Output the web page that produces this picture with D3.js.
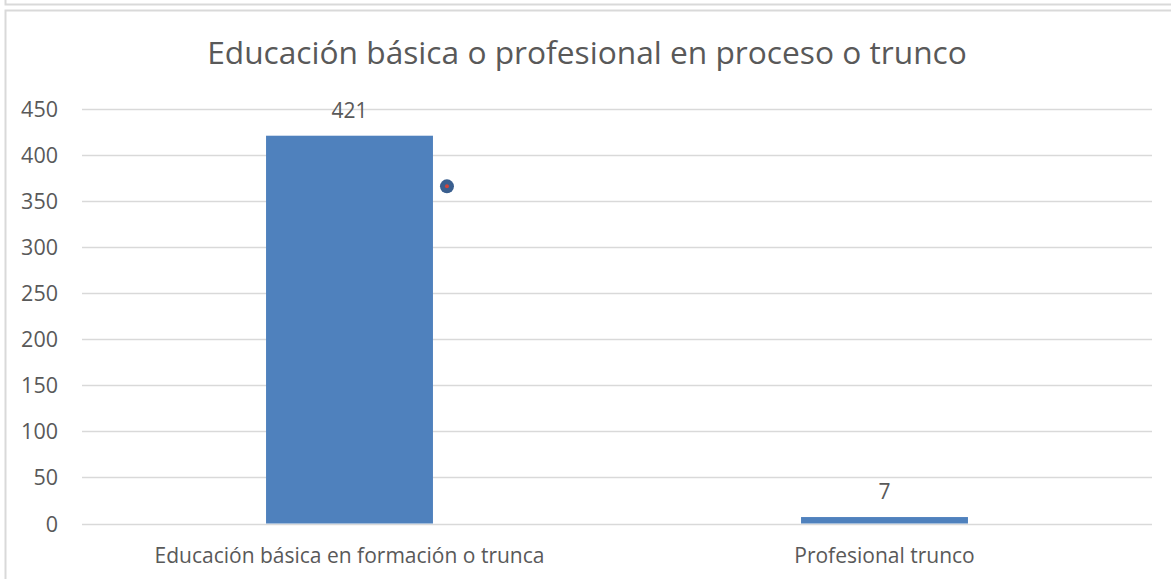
<!DOCTYPE html>
<html>
<head>
<meta charset="utf-8">
<script src="https://cdn.jsdelivr.net/npm/d3@7"></script>
<style>
  html, body { margin: 0; padding: 0; background: #fff; }
  svg { display: block; }
  text { font-family: "Open Sans", "Liberation Sans", sans-serif; fill: #595959; }
</style>
</head>
<body>
<script>
const title = "Educación básica o profesional en proceso o trunco";
const categories = ["Educación básica en formación o trunca", "Profesional trunco"];
const values = [421, 7];
const yTicks = [0, 50, 100, 150, 200, 250, 300, 350, 400, 450];
const markerValues = [366];

(function () {
const W = 1171, H = 579;
const svg = d3.select("body").append("svg").attr("width", W).attr("height", H);

// frames
svg.append("path")
  .attr("d", "M5.5,0 V4.5 H1171")
  .attr("fill", "none").attr("stroke", "#d9d9d9").attr("stroke-width", 2);
svg.append("path")
  .attr("d", "M5.5,581 V10.5 H1171")
  .attr("fill", "none").attr("stroke", "#d9d9d9").attr("stroke-width", 2);

const pLeft = 82, pRight = 1152, pTop = 109, pBottom = 523.5;
const x = d3.scaleBand().domain(categories).range([pLeft, pRight])
  .paddingInner(0.688).paddingOuter(0.344);
const y = d3.scaleLinear().domain([0, 450]).range([pBottom, pTop]);

// grid
svg.append("g").selectAll("line").data(yTicks).join("line")
  .attr("x1", pLeft).attr("x2", pRight)
  .attr("y1", d => Math.round(y(d)) + 0.5).attr("y2", d => Math.round(y(d)) + 0.5)
  .attr("stroke", "#d9d9d9").attr("stroke-width", 1.5);

// y axis labels
const yAxis = d3.axisLeft(y).tickValues(yTicks).tickSize(0).tickPadding(0);
const ga = svg.append("g").attr("transform", `translate(58,0)`).call(yAxis);
ga.select(".domain").remove();
ga.selectAll("text").attr("font-size", 21.5).attr("fill", "#595959")
  .attr("font-family", "\"Open Sans\", sans-serif").attr("dy", "0.35em");

// bars
svg.append("g").selectAll("rect").data(values).join("rect")
  .attr("x", (d, i) => x(categories[i]))
  .attr("width", x.bandwidth())
  .attr("y", d => y(d))
  .attr("height", d => y(0) - y(d))
  .attr("fill", "#4f81bd");

// data labels
svg.append("g").selectAll("text").data(values).join("text")
  .attr("x", (d, i) => x(categories[i]) + x.bandwidth() / 2)
  .attr("y", d => y(d) - 18)
  .attr("text-anchor", "middle")
  .attr("font-size", 21)
  .attr("fill", "#404040")
  .text(d => d);

// category labels
svg.append("g").selectAll("text").data(categories).join("text")
  .attr("x", d => x(d) + x.bandwidth() / 2)
  .attr("y", 563)
  .attr("text-anchor", "middle")
  .attr("font-size", 21)
  .text(d => d);

// marker dot
const mg = svg.append("g").selectAll("g").data(markerValues).join("g")
  .attr("transform", d => `translate(${x(categories[0]) + x.bandwidth() + 14},${y(d)})`);
mg.append("circle").attr("r", 7).attr("fill", "#3a5f8f");
mg.append("circle").attr("r", 2).attr("fill", "#d0453a");

// title
svg.append("text")
  .attr("x", 587)
  .attr("y", 64)
  .attr("text-anchor", "middle")
  .attr("font-size", 31.7)
  .attr("fill", "#595959")
  .text(title);
})();
</script>
</body>
</html>
